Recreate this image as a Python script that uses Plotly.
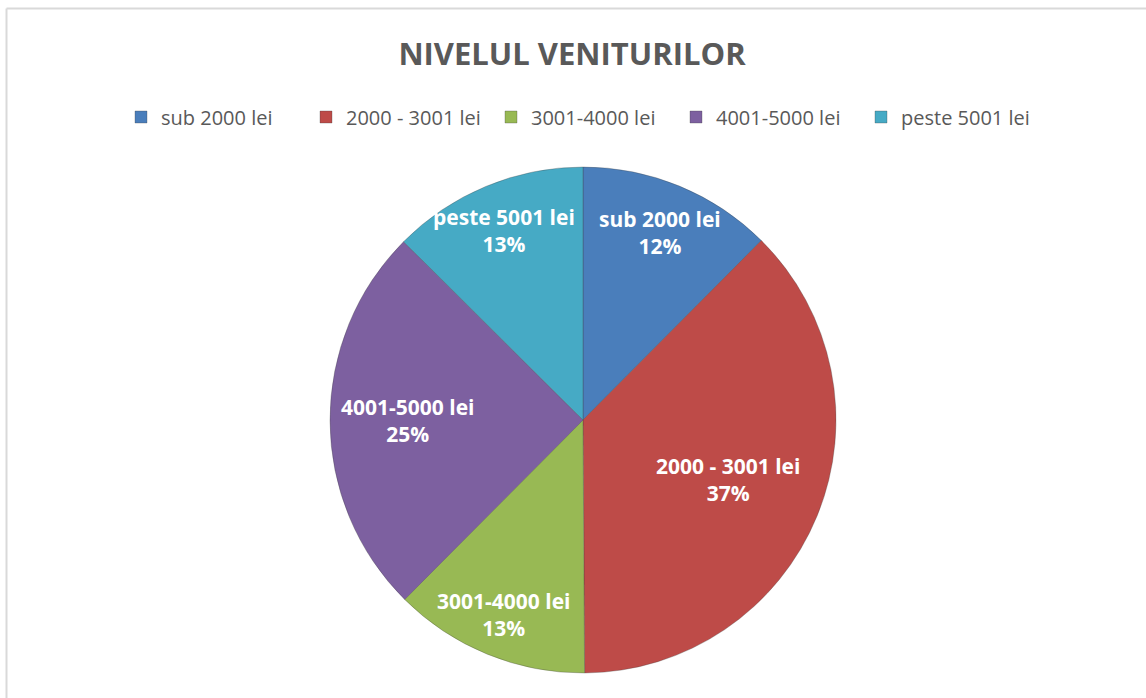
import math
import plotly.graph_objects as go

categories = ["sub 2000 lei", "2000 - 3001 lei", "3001-4000 lei", "4001-5000 lei", "peste 5001 lei"]
values = [12.45, 37.45, 12.55, 25.0, 12.55]
colors = ["#4A7EBB", "#BE4B48", "#98B954", "#7D60A0", "#46AAC5"]
title_text = "NIVELUL VENITURILOR"

# label placement (fraction of radius along each slice's mid-angle), style only
label_radius = [0.80, 0.62, 0.83, 0.69, 0.81]

W, H = 1146, 698
cx, cy, r = 583, 420, 253

fig = go.Figure(go.Pie(
    labels=categories,
    values=values,
    sort=False,
    direction="clockwise",
    rotation=0,
    marker=dict(colors=colors, line=dict(color="rgba(60,60,60,0.30)", width=1)),
    textinfo="none",
    domain=dict(x=[(cx - r) / W, (cx + r) / W], y=[1 - (cy + r) / H, 1 - (cy - r) / H]),
    hoverinfo="label+percent",
))

total = sum(values)
annotations = []
cum = 0.0
for lab, v, rf in zip(categories, values, label_radius):
    mid = (cum + v / 2) / total * 2 * math.pi
    cum += v
    px = cx + rf * r * math.sin(mid)
    py = cy - rf * r * math.cos(mid)
    annotations.append(dict(
        x=px / W, y=1 - py / H, xref="paper", yref="paper",
        text=f"<b>{lab}</b><br><b>{v / total:.0%}</b>",
        showarrow=False, xanchor="center", yanchor="middle", align="center",
        font=dict(family="Open Sans", size=21, color="white"),
    ))

fig.update_layout(
    width=W, height=H,
    margin=dict(l=0, r=0, t=0, b=0),
    paper_bgcolor="white",
    plot_bgcolor="white",
    font=dict(family="Open Sans", color="#595959"),
    title=dict(text="<b>" + title_text + "</b>", x=572 / W, xanchor="center",
               y=1 - 54 / H, yanchor="middle",
               font=dict(family="Open Sans", size=31, color="#595959")),
    showlegend=True,
    legend=dict(orientation="h", x=121 / W, xanchor="left", y=1 - 117 / H, yanchor="middle",
                font=dict(family="Open Sans", size=20, color="#595959"),
                itemwidth=30, entrywidth=140, entrywidthmode="pixels", itemclick=False),
    annotations=annotations,
    shapes=[
        dict(type="line", xref="paper", yref="paper", x0=6.5 / W, x1=1, y0=1 - 8.5 / H, y1=1 - 8.5 / H,
             line=dict(color="#D9D9D9", width=2)),
        dict(type="line", xref="paper", yref="paper", x0=6.5 / W, x1=6.5 / W, y0=0, y1=1 - 8.5 / H,
             line=dict(color="#D9D9D9", width=2)),
    ],
)

fig.write_html("out.html", config={"displayModeBar": False},
               post_script="document.body.style.margin='0px';")
